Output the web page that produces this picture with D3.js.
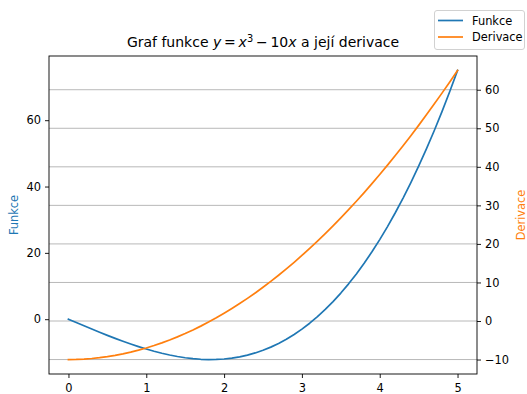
<!DOCTYPE html>
<html>
<head>
<meta charset="utf-8">
<script src="https://cdn.jsdelivr.net/npm/d3@7"></script>
<style>
  html, body { margin: 0; padding: 0; background: #fff; }
  svg { display: block; font-family: "DejaVu Sans", sans-serif; }
</style>
</head>
<body>
<svg id="chart" width="527" height="394"></svg>
<script>
// Sample points of y = x^3 - 10x and its derivative y' = 3x^2 - 10 on [0, 5]
const xs = [0, 0.1, 0.2, 0.3, 0.4, 0.5, 0.6, 0.7, 0.8, 0.9, 1.0, 1.1, 1.2, 1.3, 1.4, 1.5, 1.6, 1.7, 1.8, 1.9,
  2.0, 2.1, 2.2, 2.3, 2.4, 2.5, 2.6, 2.7, 2.8, 2.9, 3.0, 3.1, 3.2, 3.3, 3.4, 3.5, 3.6, 3.7, 3.8, 3.9,
  4.0, 4.1, 4.2, 4.3, 4.4, 4.5, 4.6, 4.7, 4.8, 4.9, 5.0];
const funkce = [0, -0.999, -1.992, -2.973, -3.936, -4.875, -5.784, -6.657, -7.488, -8.271,
  -9, -9.669, -10.272, -10.803, -11.256, -11.625, -11.904, -12.087, -12.168, -12.141,
  -12, -11.739, -11.352, -10.833, -10.176, -9.375, -8.424, -7.317, -6.048, -4.611,
  -3, -1.209, 0.768, 2.937, 5.304, 7.875, 10.656, 13.653, 16.872, 20.319,
  24, 27.921, 32.088, 36.507, 41.184, 46.125, 51.336, 56.823, 62.592, 68.649, 75];
const derivace = [-10, -9.97, -9.88, -9.73, -9.52, -9.25, -8.92, -8.53, -8.08, -7.57,
  -7, -6.37, -5.68, -4.93, -4.12, -3.25, -2.32, -1.33, -0.28, 0.83,
  2, 3.23, 4.52, 5.87, 7.28, 8.75, 10.28, 11.87, 13.52, 15.23,
  17, 18.83, 20.72, 22.67, 24.68, 26.75, 28.88, 31.07, 33.32, 35.63,
  38, 40.43, 42.92, 45.47, 48.08, 50.75, 53.48, 56.27, 59.12, 62.03, 65];
const xTicks = [0, 1, 2, 3, 4, 5];
const leftTicks = [0, 20, 40, 60];
const rightTicks = [-10, 0, 10, 20, 30, 40, 50, 60];
const seriesNames = ["Funkce", "Derivace"];
const colors = ["#1f77b4", "#ff7f0e"];

const svg = d3.select("#chart");
const box = { left: 49, right: 477, top: 56, bottom: 374 };
const fs = 11.4;

// matplotlib-style 5% padding around the data extent
function padded(vals) {
  const [lo, hi] = d3.extent(vals);
  const m = (hi - lo) * 0.05;
  return [lo - m, hi + m];
}

const x = d3.scaleLinear().domain(padded(xs)).range([box.left, box.right]);
const yL = d3.scaleLinear().domain(padded(funkce)).range([box.bottom, box.top]);
const yR = d3.scaleLinear().domain(padded(derivace)).range([box.bottom, box.top]);

// horizontal grid from the right-hand axis
svg.append("g").selectAll("line").data(rightTicks).join("line")
  .attr("x1", box.left).attr("x2", box.right)
  .attr("y1", d => yR(d)).attr("y2", d => yR(d))
  .attr("stroke", "#b0b0b0").attr("stroke-width", 0.9);

// curves
const pts = [funkce, derivace];
const scales = [yL, yR];
pts.forEach((vals, i) => {
  const line = d3.line().x((d, j) => x(xs[j])).y(d => scales[i](d));
  svg.append("path").datum(vals)
    .attr("d", line)
    .attr("fill", "none")
    .attr("stroke", colors[i])
    .attr("stroke-width", 1.7)
    .attr("stroke-linejoin", "round")
    .attr("stroke-linecap", "square");
});

// axes
function styleAxis(g) {
  g.select(".domain").remove();
  g.selectAll(".tick line").attr("stroke", "#000").attr("stroke-width", 0.9);
  g.selectAll(".tick text").attr("fill", "#000").style("font-size", fs + "px")
    .style("font-family", "'DejaVu Sans', sans-serif");
}
const fmt = d => d < 0 ? "\u2212" + Math.abs(d) : String(d);

svg.append("g").attr("transform", `translate(0,${box.bottom})`)
  .call(d3.axisBottom(x).tickValues(xTicks).tickSize(4).tickPadding(4).tickFormat(fmt))
  .call(styleAxis)
  .call(g => g.selectAll(".tick text").attr("dy", null).attr("y", 17.5));

svg.append("g").attr("transform", `translate(${box.left},0)`)
  .call(d3.axisLeft(yL).tickValues(leftTicks).tickSize(4).tickPadding(4).tickFormat(fmt))
  .call(styleAxis);

svg.append("g").attr("transform", `translate(${box.right},0)`)
  .call(d3.axisRight(yR).tickValues(rightTicks).tickSize(4).tickPadding(4).tickFormat(fmt))
  .call(styleAxis);

// frame
svg.append("rect")
  .attr("x", box.left).attr("y", box.top)
  .attr("width", box.right - box.left).attr("height", box.bottom - box.top)
  .attr("fill", "none").attr("stroke", "#000").attr("stroke-width", 0.9);

// axis labels
const midY = (box.top + box.bottom) / 2;
svg.append("text")
  .attr("transform", `translate(18,${midY}) rotate(-90)`)
  .attr("text-anchor", "middle")
  .attr("fill", colors[0]).style("font-size", fs + "px")
  .text(seriesNames[0]);
svg.append("text")
  .attr("transform", `translate(525,${midY}) rotate(-90)`)
  .attr("text-anchor", "middle")
  .attr("fill", colors[1]).style("font-size", fs + "px")
  .text(seriesNames[1]);

// title with math
const title = svg.append("text")
  .attr("x", (box.left + box.right) / 2).attr("y", 47)
  .attr("text-anchor", "middle")
  .style("font-size", "14px").attr("fill", "#000");
title.append("tspan").text("Graf funkce ");
title.append("tspan").style("font-style", "italic").text("y");
title.append("tspan").text("\u2009=\u2009");
title.append("tspan").style("font-style", "italic").text("x");
title.append("tspan").attr("dy", -5.5).style("font-size", "9.8px").text("3");
title.append("tspan").attr("dy", 5.5).text("\u2009\u2212\u200910");
title.append("tspan").style("font-style", "italic").text("x");
title.append("tspan").text(" a její derivace");

// legend
const lg = svg.append("g");
lg.append("rect")
  .attr("x", 434.5).attr("y", 10.5).attr("width", 90).attr("height", 39)
  .attr("rx", 2.5).attr("fill", "#fff").attr("fill-opacity", 0.8)
  .attr("stroke", "#cccccc").attr("stroke-width", 0.9);
seriesNames.forEach((name, i) => {
  const cy = 20.5 + i * 16.5;
  lg.append("line")
    .attr("x1", 438).attr("x2", 463).attr("y1", cy).attr("y2", cy)
    .attr("stroke", colors[i]).attr("stroke-width", 1.7);
  lg.append("text")
    .attr("x", 472).attr("y", cy + 4)
    .style("font-size", fs + "px").attr("fill", "#000")
    .text(name);
});
</script>
</body>
</html>
